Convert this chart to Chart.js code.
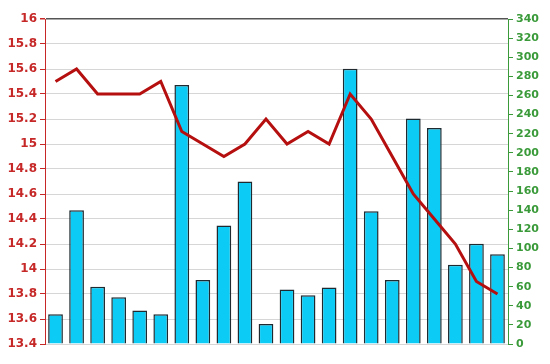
<!DOCTYPE html>
<html>
<head>
<meta charset="utf-8">
<script src="https://cdn.jsdelivr.net/npm/chart.js@4/dist/chart.umd.min.js"></script>
<style>
  html, body { margin: 0; padding: 0; background: #fff; }
  #wrap { width: 550px; height: 364px; position: relative; }
</style>
</head>
<body>
<div id="wrap"><canvas id="chart"></canvas></div>
<script>
// data
const categories = ["1","2","3","4","5","6","7","8","9","10","11","12","13","14","15","16","17","18","19","20","21","22"];
const barValues = [31, 140, 60, 49, 35, 31, 271, 67, 124, 170, 21, 57, 51, 59, 288, 139, 67, 236, 226, 83, 105, 94];
const lineValues = [15.5, 15.6, 15.4, 15.4, 15.4, 15.5, 15.1, 15.0, 14.9, 15.0, 15.2, 15.0, 15.1, 15.0, 15.4, 15.2, 14.9, 14.6, 14.4, 14.2, 13.9, 13.8];
const leftTicks = [13.4, 13.6, 13.8, 14, 14.2, 14.4, 14.6, 14.8, 15, 15.2, 15.4, 15.6, 15.8, 16];
const rightTicks = [0, 20, 40, 60, 80, 100, 120, 140, 160, 180, 200, 220, 240, 260, 280, 300, 320, 340];

const red = "#c62828";
const green = "#3a9a3a";

let ctx = document.getElementById("chart").getContext("2d");
new Chart(ctx, {
  data: {
    labels: categories,
    datasets: [
      {
        type: "line",
        data: lineValues,
        yAxisID: "y",
        borderColor: "#b50f0f",
        borderWidth: 3,
        pointRadius: 0,
        tension: 0,
        order: 0
      },
      {
        type: "bar",
        data: barValues,
        yAxisID: "y1",
        backgroundColor: "#0ccbf5",
        borderColor: "#1f2a30",
        borderWidth: 1.5,
        barPercentage: 0.7,
        categoryPercentage: 1,
        order: 1
      }
    ]
  },
  options: {
    responsive: true,
    maintainAspectRatio: false,
    animation: false,
    layout: { padding: { top: 19, bottom: 20, left: 0, right: 0 } },
    plugins: { legend: { display: false }, tooltip: { enabled: false } },
    scales: {
      x: { display: false },
      y: {
        position: "left",
        min: 13.4,
        max: 16,
        afterBuildTicks: (s) => { s.ticks = leftTicks.map(v => ({ value: v })); },
        afterFit: (s) => { s.width = 45; },
        ticks: {
          color: red,
          padding: 3,
          font: { family: "DejaVu Sans", size: 12, weight: "bold" },
          callback: (v) => String(Math.round(v * 10) / 10)
        },
        grid: {
          color: (c) => (c.tick && c.tick.value === 16 ? "#555" : "#d6d6d6"),
          lineWidth: (c) => (c.tick && c.tick.value === 16 ? 1.5 : 1),
          tickColor: red,
          tickLength: 5
        },
        border: { color: red, width: 1 }
      },
      y1: {
        position: "right",
        min: 0,
        max: 340,
        afterBuildTicks: (s) => { s.ticks = rightTicks.map(v => ({ value: v })); },
        afterFit: (s) => { s.width = 42; },
        ticks: {
          color: green,
          padding: 3,
          font: { family: "DejaVu Sans", size: 11, weight: "bold" }
        },
        grid: { drawOnChartArea: false, tickColor: green, tickLength: 5 },
        border: { color: green, width: 1 }
      }
    }
  }
});
</script>
</body>
</html>
